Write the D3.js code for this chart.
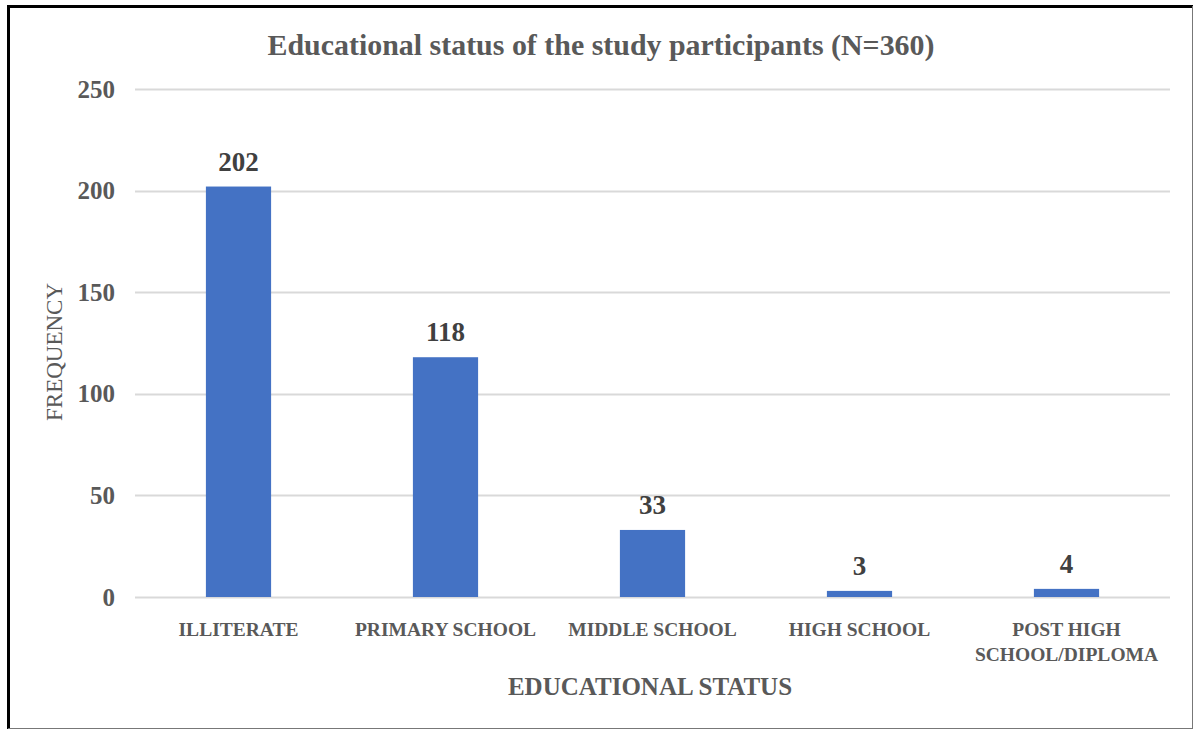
<!DOCTYPE html>
<html>
<head>
<meta charset="utf-8">
<script src="https://cdn.jsdelivr.net/npm/d3@7"></script>
<style>
  html, body { margin: 0; padding: 0; background: #fff; }
  svg { display: block; }
  text { font-family: "Liberation Serif", "Times New Roman", serif; }
</style>
</head>
<body>
<script>
// Educational status of participants
const categories = ["ILLITERATE", "PRIMARY SCHOOL", "MIDDLE SCHOOL", "HIGH SCHOOL", "POST HIGH SCHOOL/DIPLOMA"];
const categoryLines = [["ILLITERATE"], ["PRIMARY SCHOOL"], ["MIDDLE SCHOOL"], ["HIGH SCHOOL"], ["POST HIGH", "SCHOOL/DIPLOMA"]];
const frequency = [202, 118, 33, 3, 4];
const yTicks = [0, 50, 100, 150, 200, 250];

const W = 1194, H = 729;
const plot = { left: 135, right: 1170, top: 89, bottom: 597 };

const svg = d3.select("body").append("svg").attr("width", W).attr("height", H);

// frame
svg.append("line").attr("x1", 8.5).attr("x2", 8.5).attr("y1", 5).attr("y2", 729)
  .attr("stroke", "#000").attr("stroke-width", 3);
svg.append("line").attr("x1", 7).attr("x2", 1193).attr("y1", 6.5).attr("y2", 6.5)
  .attr("stroke", "#000").attr("stroke-width", 3);
svg.append("line").attr("x1", 1192.5).attr("x2", 1192.5).attr("y1", 6).attr("y2", 729)
  .attr("stroke", "#777").attr("stroke-width", 1);
svg.append("line").attr("x1", 8).attr("x2", 1193).attr("y1", 728.5).attr("y2", 728.5)
  .attr("stroke", "#777").attr("stroke-width", 1);

const x = d3.scaleBand().domain(categories).range([plot.left, plot.right]).paddingInner(0.685).paddingOuter(0.3425);
const y = d3.scaleLinear().domain([0, 250]).range([plot.bottom, plot.top]);

// gridlines
svg.append("g").selectAll("line").data(yTicks).join("line")
  .attr("x1", plot.left).attr("x2", plot.right)
  .attr("y1", d => Math.round(y(d)) + 0.5).attr("y2", d => Math.round(y(d)) + 0.5)
  .attr("stroke", "#d9d9d9").attr("stroke-width", 2);

// y axis tick labels
const yAxis = d3.axisLeft(y).tickValues(yTicks).tickSize(0).tickPadding(0);
const gy = svg.append("g").attr("transform", `translate(${plot.left - 20},0)`).call(yAxis);
gy.select(".domain").remove();
gy.selectAll("text")
  .attr("fill", "#595959").attr("font-size", 25).attr("font-weight", "bold")
  .attr("font-family", "Liberation Serif, Times New Roman, serif")
  .attr("dy", "0.32em");

// bars
svg.append("g").selectAll("rect").data(frequency).join("rect")
  .attr("x", (d, i) => x(categories[i]))
  .attr("width", x.bandwidth())
  .attr("y", d => y(d))
  .attr("height", d => y(0) - y(d))
  .attr("fill", "#4472c4");

// value labels
svg.append("g").selectAll("text").data(frequency).join("text")
  .attr("x", (d, i) => x(categories[i]) + x.bandwidth() / 2)
  .attr("y", d => y(d) - 16)
  .attr("text-anchor", "middle")
  .attr("font-size", 27).attr("font-weight", "bold").attr("fill", "#404040")
  .text(d => d);

// category labels
const cat = svg.append("g").selectAll("text").data(categoryLines).join("text")
  .attr("text-anchor", "middle")
  .attr("font-size", 19.5).attr("font-weight", "bold").attr("fill", "#595959");
cat.each(function (lines, i) {
  const cx = x(categories[i]) + x.bandwidth() / 2;
  d3.select(this).selectAll("tspan").data(lines).join("tspan")
    .attr("x", cx).attr("y", (l, j) => 636 + j * 25).text(l => l);
});

// axis titles
svg.append("text").attr("x", 650).attr("y", 695).attr("text-anchor", "middle")
  .attr("font-size", 25).attr("font-weight", "bold").attr("fill", "#595959")
  .text("EDUCATIONAL STATUS");

svg.append("text").attr("transform", "translate(62,352) rotate(-90)")
  .attr("text-anchor", "middle")
  .attr("font-size", 23).attr("fill", "#595959")
  .text("FREQUENCY");

// chart title
svg.append("text").attr("x", 601).attr("y", 55).attr("text-anchor", "middle")
  .attr("font-size", 29).attr("font-weight", "bold").attr("fill", "#595959")
  .attr("textLength", 667).attr("lengthAdjust", "spacingAndGlyphs")
  .text("Educational status of the study participants (N=360)");
</script>
</body>
</html>
